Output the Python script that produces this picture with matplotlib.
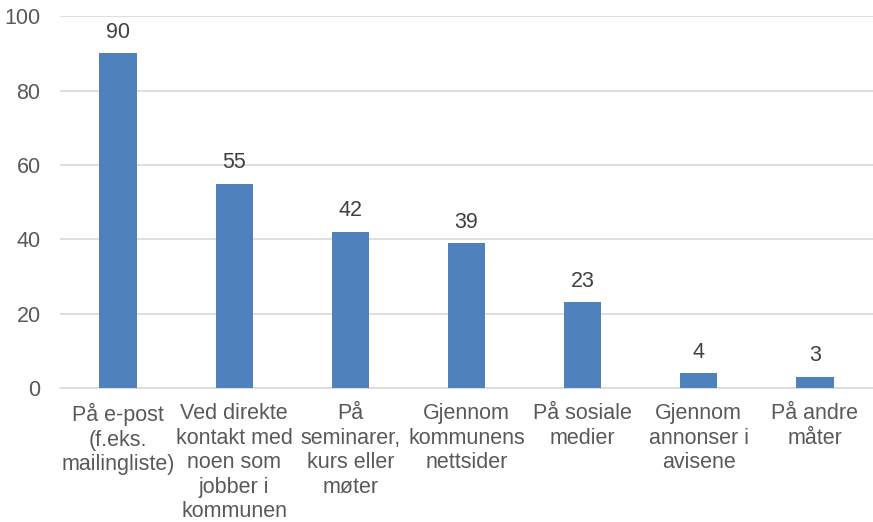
import matplotlib.pyplot as plt

categories = ['På e-post\n(f.eks.\nmailingliste)', 'Ved direkte\nkontakt med\nnoen som\njobber i\nkommunen',
              'På\nseminarer,\nkurs eller\nmøter', 'Gjennom\nkommunens\nnettsider', 'På sosiale\nmedier',
              'Gjennom\nannonser i\navisene', 'På andre\nmåter']
values = [90, 55, 42, 39, 23, 4, 3]

plt.rcParams['font.family'] = ['Liberation Sans', 'DejaVu Sans']

fig = plt.figure(figsize=(8.73, 5.22), dpi=100)
ax = fig.add_axes([0.0687, 0.2567, 0.9313, 0.7123])

x = range(len(categories))
ax.bar(x, values, width=0.32, color='#4F81BD', zorder=3)
for i, v in zip(x, values):
    ax.text(i, v + 2.8, str(v), ha='center', va='bottom', fontsize=15.5, color='#404040')

ax.set_xlim(-0.5, len(categories) - 0.5)
ax.set_ylim(0, 100)
ax.set_yticks(range(0, 101, 20))
ax.grid(axis='y', color='#D9D9D9', linewidth=1.2, zorder=0)
for s in ['top', 'right', 'left']:
    ax.spines[s].set_visible(False)
ax.spines['bottom'].set_color('#D9D9D9')
ax.spines['bottom'].set_linewidth(1.2)
ax.tick_params(axis='both', length=0, labelsize=15.5, labelcolor='#595959')
ax.tick_params(axis='y', pad=14)
ax.set_xticks(list(x))
ax.set_xticklabels(categories, linespacing=1.22)
ax.tick_params(axis='x', pad=11)

fig.savefig('out.png', dpi=100)
